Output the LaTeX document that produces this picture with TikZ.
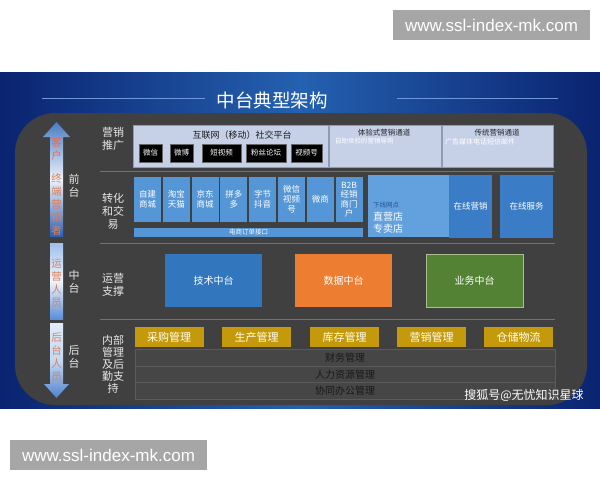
\documentclass[tikz,border=0pt]{standalone}
\usepackage{fontspec}
\setmainfont{Noto Sans CJK SC}
\newfontfamily\urlfont{Liberation Sans}
\definecolor{bgdark}{HTML}{0A2370}
\definecolor{bgmid}{HTML}{2461B0}
\definecolor{panelc}{HTML}{404040}
\definecolor{titleline}{HTML}{6D97D6}
\definecolor{sepc}{HTML}{66758C}
\definecolor{secfill}{HTML}{C6D1E7}
\definecolor{secdraw}{HTML}{8E9BB5}
\definecolor{boxblue}{HTML}{5596D6}
\definecolor{lightblue}{HTML}{62A0DE}
\definecolor{darkblue}{HTML}{3A7DC6}
\definecolor{techblue}{HTML}{3276BE}
\definecolor{dataorange}{HTML}{ED7D31}
\definecolor{bizgreen}{HTML}{548235}
\definecolor{bizborder}{HTML}{A9C08C}
\definecolor{gold}{HTML}{C49A0C}
\definecolor{trowfill}{HTML}{464646}
\definecolor{trowline}{HTML}{5A5A5A}
\definecolor{arrtxt}{HTML}{D9805A}
\definecolor{arrtop}{HTML}{E26E5A}
\definecolor{labelc}{HTML}{E8E8E8}
\definecolor{wmgray}{HTML}{A6A6A6}
\definecolor{offtxt}{HTML}{24538F}
\definecolor{arrA}{HTML}{4A7CC4}
\definecolor{arrB}{HTML}{2D5FB3}
\definecolor{arrC}{HTML}{ECF2FB}
\definecolor{arrD}{HTML}{9FC0EC}
\definecolor{arrE}{HTML}{5B8FD8}
\definecolor{arrF}{HTML}{F0F5FC}
\definecolor{arrG}{HTML}{E1EAF8}
\definecolor{arrH}{HTML}{5082CE}
\definecolor{arrI}{HTML}{C4D8F2}
\tikzset{
  every node/.style={inner sep=0pt, outer sep=0pt},
  sec/.style={fill=secfill, draw=secdraw, line width=0.6pt},
  blackbox/.style={fill=black, draw=black!60, line width=0.4pt, text=white, font=\fontsize{7.5}{9}\selectfont, minimum height=18pt},
  bluebox/.style={fill=boxblue, text=white, align=center, font=\fontsize{8.5}{10}\selectfont, minimum width=27pt, minimum height=45pt},
  bigbox/.style={text=white, font=\fontsize{10}{12}\selectfont, minimum width=97pt, minimum height=53pt},
  goldbox/.style={fill=gold, text=white!95!yellow, font=\fontsize{11}{13}\selectfont, minimum width=69pt, minimum height=20pt},
  trow/.style={fill=trowfill, draw=trowline, line width=0.6pt, text=black!90, font=\fontsize{10}{12}\selectfont, minimum width=420pt},
  sidelabel/.style={text=labelc, align=center, font=\fontsize{11}{13}\selectfont},
  arrlabel/.style={text=arrtxt, align=center, font=\fontsize{10.5}{13}\selectfont},
  sepline/.style={draw=sepc, line width=0.8pt},
  wmbox/.style={fill=wmgray, text=white, font=\urlfont\fontsize{17}{20}\selectfont, minimum width=197pt, minimum height=30pt}
}
\begin{document}
\begin{tikzpicture}[x=1pt,y=-1pt]
\useasboundingbox (0,0) rectangle (600,480);
\fill[white] (0,0) rectangle (600,480);
% background
\shade[left color=bgdark, right color=bgdark, middle color=bgmid] (0,72) rectangle (600,408);
% panel
\fill[panelc, rounded corners=40pt] (15,113) rectangle (587,405);
% title
\node[text=white, font=\fontsize{18.5}{20}\selectfont] (title) at (272,100) {中台典型架构};
\draw[titleline, line width=1pt] (42,98) -- (205,98);
\draw[titleline, line width=1pt] (397,98) -- (558,98);
% separators
\draw[sepline] (100,171) -- (555,171);
\draw[sepline] (100,243) -- (555,243);
\draw[sepline] (100,319) -- (555,319);
% vertical arrow
\shade[top color=arrA, bottom color=arrB, middle color=arrC] (56.5,122) -- (70,137) -- (63,137) -- (63,237) -- (50,237) -- (50,137) -- (43,137) -- cycle;
\shade[top color=arrD, bottom color=arrE, middle color=arrF] (50,243) rectangle (63,319);
\shade[top color=arrG, bottom color=arrH, middle color=arrI] (50,323) -- (63,323) -- (63,384) -- (69,384) -- (56.5,398) -- (44,384) -- (50,384) -- cycle;
\node[arrlabel, text=arrtop] (a1) at (56.5,148.5) {客\\户};
\node[arrlabel] (a2) at (56.5,204) {终\\端\\营\\销\\者};
\node[arrlabel] (a3) at (56.5,283) {运\\营\\人\\员};
\node[arrlabel] (a4) at (56.5,357) {后\\台\\人\\员};
% layer labels
\node[sidelabel] (l1) at (74,186) {前\\台};
\node[sidelabel] (l2) at (74,282) {中\\台};
\node[sidelabel] (l3) at (74,357) {后\\台};
\node[sidelabel] (r1) at (113,138.5) {营销\\推广};
\node[sidelabel] (r2) at (113,211) {转化\\和交\\易};
\node[sidelabel] (r3) at (113,285) {运营\\支撑};
\node[sidelabel, font=\fontsize{11}{12}\selectfont] (r4) at (113,364) {内部\\管理\\及后\\勤支\\持};
% row 1
\node[sec, minimum width=195pt, minimum height=42pt] (s1) at (230.5,146) {};
\node[sec, minimum width=112pt, minimum height=42pt] (s2) at (385,146) {};
\node[sec, minimum width=111pt, minimum height=42pt] (s3) at (497.5,146) {};
\node[text=black!90, font=\fontsize{9}{10}\selectfont] (s1t) at (242,135) {互联网（移动）社交平台};
\node[blackbox, minimum width=23pt] (b1) at (150.5,153) {微信};
\node[blackbox, minimum width=23pt] (b2) at (181.5,153) {微博};
\node[blackbox, minimum width=39pt] (b3) at (221.5,153) {短视频};
\node[blackbox, minimum width=40pt] (b4) at (266,153) {粉丝论坛};
\node[blackbox, minimum width=31pt] (b5) at (306.5,153) {视频号};
\node[text=black!85, font=\fontsize{7.5}{9}\selectfont] (s2t) at (384,133) {体验式营销通道};
\node[text=white, anchor=west, font=\fontsize{6.5}{8}\selectfont] (s2s) at (335,141.5) {自助体验的营销导购};
\node[text=black!85, font=\fontsize{7.5}{9}\selectfont] (s3t) at (497,133) {传统营销通道};
\node[text=white, anchor=west, font=\fontsize{7}{8}\selectfont] (s3s) at (445,141.5) {广告媒体电话短信邮件};
% row 2
\node[bluebox] (c1) at (147.5,199.5) {自建\\商城};
\node[bluebox] (c2) at (176.3,199.5) {淘宝\\天猫};
\node[bluebox] (c3) at (205.1,199.5) {京东\\商城};
\node[bluebox] (c4) at (233.9,199.5) {拼多\\多};
\node[bluebox] (c5) at (262.7,199.5) {字节\\抖音};
\node[bluebox] (c6) at (291.5,199.5) {微信\\视频\\号};
\node[bluebox] (c7) at (320.3,199.5) {微商};
\node[bluebox, font=\fontsize{8.5}{9.5}\selectfont] (c8) at (349.1,199.5) {B2B\\经销\\商门\\户};
\node[fill=boxblue, text=white, font=\fontsize{6.5}{8}\selectfont, minimum width=229pt, minimum height=9.5pt] (order) at (248.5,232.5) {电商订单接口};
\node[fill=lightblue, minimum width=81pt, minimum height=62pt] (off) at (408.5,206) {};
\node[fill=darkblue, text=white, font=\fontsize{8.5}{10}\selectfont, minimum width=43pt, minimum height=63pt] (onm) at (470.5,206.5) {在线营销};
\node[text=offtxt, anchor=west, font=\fontsize{6.5}{8}\selectfont] (off1) at (373,205) {下线网点};
\node[text=white, anchor=west, font=\fontsize{10}{12}\selectfont] (off2) at (373,217) {直营店};
\node[text=white, anchor=west, font=\fontsize{10}{12}\selectfont] (off3) at (373,229) {专卖店};
\node[fill=darkblue, text=white, font=\fontsize{8.5}{10}\selectfont, minimum width=53pt, minimum height=63pt] (ons) at (526.5,206.5) {在线服务};
% row 3
\node[bigbox, fill=techblue] (tech) at (213.5,280.5) {技术中台};
\node[bigbox, fill=dataorange] (data) at (343.5,280.5) {数据中台};
\node[bigbox, fill=bizgreen, draw=bizborder, line width=0.8pt] (biz) at (474.5,280.5) {业务中台};
% row 4
\node[goldbox] (g1) at (169,337) {采购管理};
\node[goldbox] (g2) at (256.5,337) {生产管理};
\node[goldbox] (g3) at (344.5,337) {库存管理};
\node[goldbox] (g4) at (431.5,337) {营销管理};
\node[goldbox] (g5) at (518.5,337) {仓储物流};
\node[trow, minimum height=17pt] (t1) at (345,357.5) {财务管理};
\node[trow, minimum height=16.5pt] (t2) at (345,374.25) {人力资源管理};
\node[trow, minimum height=16.5pt] (t3) at (345,390.75) {协同办公管理};
% watermarks
\node[text=white, font=\fontsize{12}{14}\selectfont] (sohu) at (524,395) {搜狐号@无忧知识星球};
\node[wmbox] (w1) at (491.5,25) {www.ssl-index-mk.com};
\node[wmbox] (w2) at (108.5,455) {www.ssl-index-mk.com};
\end{tikzpicture}
\end{document}
